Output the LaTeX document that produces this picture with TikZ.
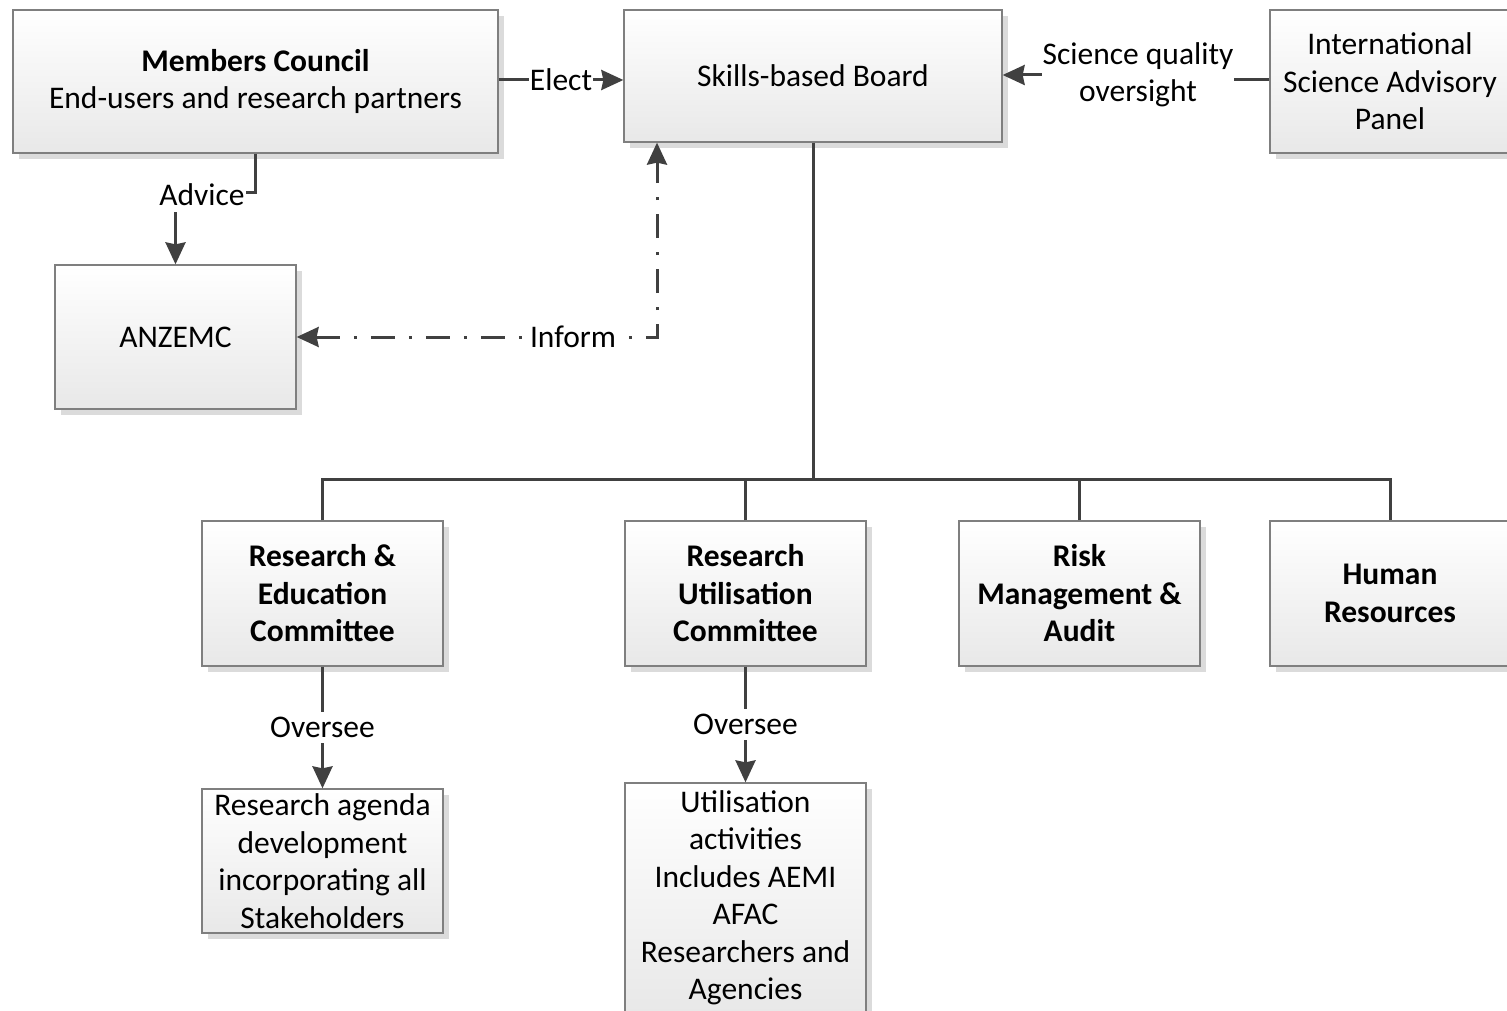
\documentclass[tikz,border=0pt]{standalone}
\usepackage{fontspec}
\setmainfont{Carlito}
\usetikzlibrary{arrows.meta,shadows,calc}
\definecolor{linec}{HTML}{404040}
\definecolor{boxborder}{HTML}{7F7F7F}
\tikzset{
  box/.style={draw=boxborder, line width=1.3pt, top color=white, bottom color=black!9,
    drop shadow={shadow xshift=6pt, shadow yshift=-6pt, fill=black!14, opacity=1},
    inner sep=0pt, align=center, font=\fontsize{31.5}{37.5}\selectfont},
  lbl/.style={fill=white, inner sep=1pt, align=center, font=\fontsize{31.5}{37.5}\selectfont},
  conn/.style={draw=linec, line width=3pt},
  tip/.style={-{Stealth[length=22pt,width=20pt,inset=2pt]}},
  dashdot/.style={conn, dash pattern=on 24pt off 14pt on 3pt off 14pt}
}
\begin{document}
\begin{tikzpicture}[x=1pt,y=-1pt]
\useasboundingbox (0,0) rectangle (1507,1011);
% boxes
\node[box, minimum width=485pt, minimum height=143pt] (mc) at (255.5,81.5)
  {\textbf{Members Council}\\End-users and research partners};
\node[box, minimum width=378pt, minimum height=132pt] (board) at (813,76) {Skills-based Board};
\node[box, minimum width=240pt, minimum height=143pt] (isap) at (1390,81.5)
  {International\\Science Advisory\\Panel};
\node[box, minimum width=241pt, minimum height=144pt] (anz) at (175.5,337) {ANZEMC};
\node[box, minimum width=241pt, minimum height=145pt] (rec) at (322.5,593.5)
  {\textbf{Research \&}\\\textbf{Education}\\\textbf{Committee}};
\node[box, minimum width=241pt, minimum height=145pt] (ruc) at (745.5,593.5)
  {\textbf{Research}\\\textbf{Utilisation}\\\textbf{Committee}};
\node[box, minimum width=241pt, minimum height=145pt] (risk) at (1079.5,593.5)
  {\textbf{Risk}\\\textbf{Management \&}\\\textbf{Audit}};
\node[box, minimum width=240pt, minimum height=145pt] (hr) at (1390,593.5)
  {\textbf{Human}\\\textbf{Resources}};
\node[box, minimum width=241pt, minimum height=144pt] (rad) at (322.5,861)
  {Research agenda\\development\\incorporating all\\Stakeholders};
\node[box, minimum width=241pt, minimum height=230pt] (ua) at (745.5,898)
  {Utilisation\\activities\\Includes AEMI\\AFAC\\Researchers and\\Agencies};
% connectors
\draw[conn,tip] (mc.east |- 0,80) -- (board.west |- 0,80)
  node[lbl,midway] (lelect) {Elect};
\draw[conn,tip] (isap.west |- 0,80) -- (1138,80) -- (1138,75) -- (board.east |- 0,75);
\node[lbl] (lsci) at (1138,75) {Science quality\\oversight};
\draw[conn,tip] (mc.south) -- (255.5,193) -| (anz.north);
\node[lbl, inner ysep=6pt] (ladv) at (202,195) {Advice};
\draw[dashdot,{Stealth[length=22pt,width=20pt,inset=2pt]}-{Stealth[length=22pt,width=20pt,inset=2pt]}]
  (anz.east) -- (657,337) -- (board.south -| 657,0);
\node[lbl] (linf) at (573,337) {Inform};
% org bus
\draw[conn] (board.south) -- (813,479);
\draw[conn] (rec.north) -- (rec.north |- 0,479) -| (hr.north);
\draw[conn] (ruc.north) -- (ruc.north |- 0,479);
\draw[conn] (risk.north) -- (risk.north |- 0,479);
% oversee
\draw[conn,tip] (rec.south) -- (rad.north) node[lbl,midway,inner ysep=5pt] (lov1) {Oversee};
\draw[conn,tip] (ruc.south) -- (ua.north) node[lbl,midway,inner ysep=5pt] (lov2) {Oversee};
\end{tikzpicture}
\end{document}
